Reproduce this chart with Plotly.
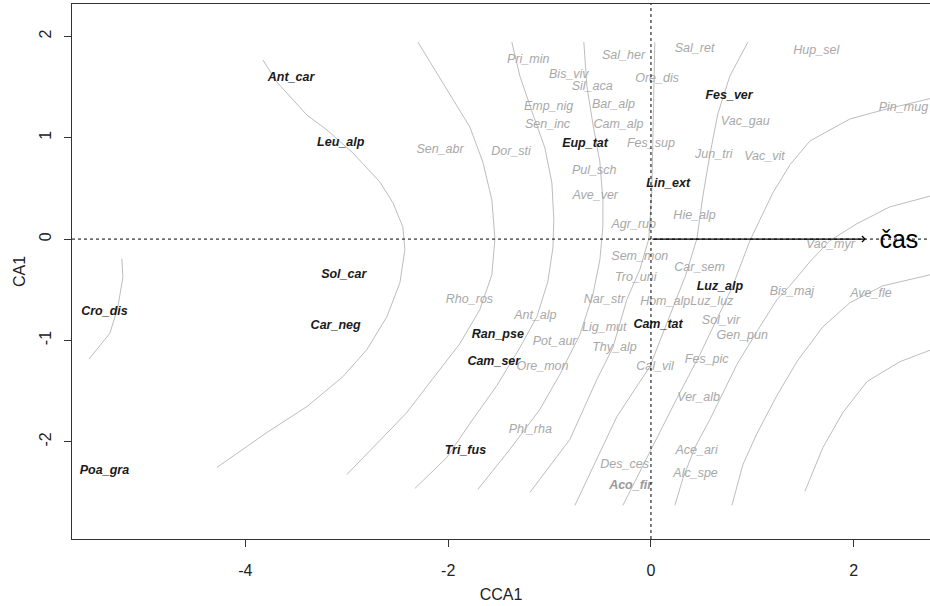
import plotly.graph_objects as go

# ---- species scores (CCA1, CA1) ----
bold_names = ["Ant_car", "Leu_alp", "Sol_car", "Car_neg", "Cro_dis", "Poa_gra", "Eup_tat",
              "Fes_ver", "Lin_ext", "Luz_alp", "Cam_tat", "Ran_pse", "Cam_ser", "Tri_fus"]
bold_x = [-3.55, -3.06, -3.03, -3.11, -5.39, -5.39, -0.65, 0.77, 0.17, 0.68, 0.07, -1.51, -1.55, -1.83]
bold_y = [1.59, 0.95, -0.35, -0.86, -0.72, -2.29, 0.94, 1.41, 0.54, -0.47, -0.85, -0.95, -1.21, -2.09]

bold_gray_names = ["Aco_fir"]
bold_gray_x = [-0.20]
bold_gray_y = [-2.44]

gray_names = ["Pri_min", "Sal_her", "Sal_ret", "Hup_sel", "Bis_viv", "Sil_aca", "Ore_dis", "Bar_alp",
              "Emp_nig", "Sen_inc", "Cam_alp", "Pin_mug", "Vac_gau", "Sen_abr", "Dor_sti", "Fes_sup",
              "Jun_tri", "Vac_vit", "Pul_sch", "Ave_ver", "Hie_alp", "Agr_rup", "Vac_myr", "Sem_mon",
              "Tro_uni", "Car_sem", "Rho_ros", "Nar_str", "Hom_alp", "Luz_luz", "Ant_alp", "Lig_mut",
              "Sol_vir", "Gen_pun", "Pot_aur", "Thy_alp", "Ore_mon", "Cal_vil", "Fes_pic", "Bis_maj",
              "Ave_fle", "Ver_alb", "Phl_rha", "Ace_ari", "Alc_spe", "Des_ces"]
gray_x = [-1.21, -0.27, 0.43, 1.63, -0.81, -0.58, 0.06, -0.37,
          -1.01, -1.02, -0.32, 2.49, 0.93, -2.08, -1.38, 0.00,
          0.62, 1.12, -0.56, -0.55, 0.43, -0.17, 1.77, -0.11,
          -0.15, 0.48, -1.79, -0.46, 0.14, 0.60, -1.14, -0.46,
          0.69, 0.90, -0.95, -0.36, -1.07, 0.04, 0.55, 1.39,
          2.17, 0.47, -1.19, 0.45, 0.44, -0.26]
gray_y = [1.77, 1.81, 1.88, 1.86, 1.62, 1.50, 1.58, 1.32,
          1.30, 1.13, 1.13, 1.29, 1.16, 0.88, 0.86, 0.94,
          0.83, 0.81, 0.67, 0.43, 0.23, 0.14, -0.06, -0.18,
          -0.38, -0.28, -0.60, -0.60, -0.62, -0.62, -0.76, -0.88,
          -0.81, -0.96, -1.01, -1.07, -1.26, -1.26, -1.19, -0.52,
          -0.54, -1.57, -1.88, -2.09, -2.32, -2.23]

# ---- environmental vector ----
env_name = "čas"
env_x = 2.12
env_y = 0.0
env_label_x = 2.445
env_label_y = -0.03

# ---- ordisurf contour lines (CCA1, CA1) ----
c0_x = [-5.218, -5.208, -5.258, -5.336, -5.543]
c0_y = [-0.194, -0.377, -0.673, -0.929, -1.185]
c1_x = [-3.827, -3.689, -3.393, -3.196, -2.940, -2.674, -2.545, -2.447, -2.427, -2.476, -2.604, -2.802, -3.038, -3.393, -3.788, -4.281]
c1_y = [1.767, 1.549, 1.224, 1.077, 0.850, 0.564, 0.358, 0.121, -0.105, -0.431, -0.766, -1.091, -1.357, -1.653, -1.909, -2.254]
c2_x = [-2.299, -2.013, -1.786, -1.658, -1.569, -1.539, -1.569, -1.688, -1.885, -2.151, -2.408, -2.674, -2.999]
c2_y = [1.944, 1.471, 1.106, 0.761, 0.387, 0.003, -0.352, -0.697, -1.032, -1.377, -1.712, -1.988, -2.323]
c3_x = [-1.372, -1.293, -1.165, -1.046, -0.977, -0.958, -0.967, -1.017, -1.125, -1.293, -1.520, -1.786, -2.013, -2.328]
c3_y = [1.944, 1.609, 1.234, 0.899, 0.554, 0.190, -0.086, -0.421, -0.766, -1.072, -1.446, -1.820, -2.155, -2.461]
c4_x = [-0.662, -0.632, -0.573, -0.504, -0.474, -0.474, -0.504, -0.573, -0.701, -0.899, -1.096, -1.392, -1.707]
c4_y = [1.944, 1.510, 1.136, 0.762, 0.387, 0.121, -0.205, -0.549, -0.943, -1.337, -1.682, -2.076, -2.470]
c5_x = [0.038, 0.029, 0.019, 0.009, -0.021, -0.110, -0.238, -0.376, -0.534, -0.800, -1.194]
c5_y = [1.944, 1.471, 0.978, 0.486, 0.003, -0.302, -0.598, -1.072, -1.387, -1.978, -2.500]
c6_x = [0.956, 0.778, 0.659, 0.581, 0.512, 0.453, 0.344, 0.206, -0.011, -0.336, -0.750]
c6_y = [1.944, 1.609, 1.234, 0.830, 0.426, 0.003, -0.352, -0.697, -1.259, -1.752, -2.628]
c7_x = [2.85, 2.287, 1.962, 1.567, 1.370, 1.202, 1.074, 0.975, 0.808, 0.650, 0.482, 0.255, 0.019, -0.277]
c7_y = [1.41, 1.274, 1.185, 0.968, 0.732, 0.456, 0.190, -0.017, -0.460, -0.795, -1.140, -1.574, -2.047, -2.628]
c8_x = [2.85, 2.356, 2.030, 1.764, 1.567, 1.370, 1.242, 1.074, 0.847, 0.709, 0.581, 0.433, 0.315, 0.236]
c8_y = [0.45, 0.318, 0.151, -0.017, -0.224, -0.461, -0.599, -0.865, -1.239, -1.515, -1.781, -2.057, -2.362, -2.628]
c9_x = [2.85, 2.287, 1.962, 1.696, 1.439, 1.242, 1.045, 0.907, 0.798]
c9_y = [-0.33, -0.461, -0.628, -0.865, -1.210, -1.545, -1.919, -2.225, -2.628]
c10_x = [2.85, 2.455, 2.130, 1.892, 1.696, 1.518]
c10_y = [-1.06, -1.210, -1.407, -1.712, -2.057, -2.490]

contours = [(c0_x, c0_y), (c1_x, c1_y), (c2_x, c2_y), (c3_x, c3_y), (c4_x, c4_y), (c5_x, c5_y),
            (c6_x, c6_y), (c7_x, c7_y), (c8_x, c8_y), (c9_x, c9_y), (c10_x, c10_y)]

x_ticks = [-4, -2, 0, 2]
x_tick_labels = ["-4", "-2", "0", "2"]
y_ticks = [-2, -1, 0, 1, 2]
y_tick_labels = ["-2", "-1", "0", "1", "2"]

FONT = "Liberation Sans, Arial, sans-serif"
LAB = 12.5

fig = go.Figure()

for cx, cy in contours:
    fig.add_trace(go.Scatter(x=cx, y=cy, mode="lines", line=dict(color="#bdbdbd", width=1),
                             hoverinfo="skip", showlegend=False))

fig.add_trace(go.Scatter(x=gray_x, y=gray_y, text=gray_names, mode="text", cliponaxis=False,
                         textfont=dict(family=FONT, size=LAB, color="#a8a8a8", style="italic"),
                         showlegend=False))
fig.add_trace(go.Scatter(x=bold_gray_x, y=bold_gray_y, text=bold_gray_names, mode="text",
                         textfont=dict(family=FONT, size=LAB, color="#9a9a9a", style="italic", weight="bold"),
                         showlegend=False))
fig.add_trace(go.Scatter(x=bold_x, y=bold_y, text=bold_names, mode="text",
                         textfont=dict(family=FONT, size=LAB, color="#1a1a1a", style="italic", weight="bold"),
                         showlegend=False))
fig.add_trace(go.Scatter(x=[env_label_x], y=[env_label_y], text=[env_name], mode="text", cliponaxis=False,
                         textfont=dict(family=FONT, size=25, color="black"), showlegend=False))

# reference dotted lines
fig.add_hline(y=0, line=dict(color="black", width=1, dash="dot"))
fig.add_vline(x=0, line=dict(color="black", width=1, dash="dot"))

# environmental arrow
fig.add_annotation(x=env_x, y=env_y, ax=0, ay=0, xref="x", yref="y", axref="x", ayref="y",
                   text="", showarrow=True, arrowhead=4, arrowsize=0.9, arrowwidth=1.3,
                   arrowcolor="black", standoff=0)

fig.update_xaxes(range=[-5.71, 2.752], tickvals=x_ticks, ticktext=x_tick_labels,
                 ticks="outside", ticklen=7, automargin=False,
                 tickcolor="#333", showline=True, linecolor="#333", linewidth=1, mirror=True,
                 showgrid=False, zeroline=False, ticklabelstandoff=10,
                 tickfont=dict(family=FONT, size=16, color="#222"),
                 title=dict(text="CCA1", font=dict(family=FONT, size=16, color="#222"), standoff=10))
fig.update_yaxes(range=[-2.96, 2.32], tickvals=y_ticks, ticktext=y_tick_labels,
                 ticks="outside", ticklen=7, automargin=False,
                 tickcolor="#333", showline=True, linecolor="#333", linewidth=1,
                 showgrid=False, zeroline=False, tickangle=-90, ticklabelstandoff=7,
                 tickfont=dict(family=FONT, size=16, color="#222"),
                 title=dict(text="CA1", font=dict(family=FONT, size=16, color="#222"), standoff=6))

fig.update_layout(width=930, height=606, margin=dict(l=72, r=0, t=4, b=67),
                  paper_bgcolor="white", plot_bgcolor="white", showlegend=False)

fig.write_html("out.html", config={"displayModeBar": False},
               post_script="document.body.style.margin='0';document.body.style.overflow='hidden';")
